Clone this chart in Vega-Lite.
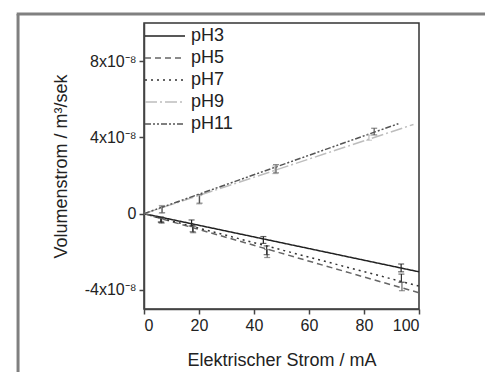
{
  "$schema": "https://vega.github.io/schema/vega-lite/v6.json",
  "width": 275,
  "height": 286,
  "autosize": "none",
  "padding": {"left": 144, "top": 23, "right": 66, "bottom": 63},
  "background": "white",
  "config": {
    "font": "Liberation Sans",
    "view": {"stroke": "#333", "strokeWidth": 1.5},
    "axis": {
      "grid": false,
      "domainColor": "#444",
      "domainWidth": 1.5,
      "tickColor": "#444",
      "tickWidth": 1.5,
      "tickSize": 5,
      "labelFontSize": 16,
      "labelColor": "#222",
      "titleFontSize": 18,
      "titleFontWeight": "normal",
      "titleColor": "#222",
      "labelPadding": 3
    }
  },
  "datasets": {
    "lines": [
      {"series": "pH3", "I": 0, "V": 0},
      {"series": "pH3", "I": 100, "V": -3.05e-8},
      {"series": "pH5", "I": 0, "V": 0},
      {"series": "pH5", "I": 100, "V": -4.15e-8},
      {"series": "pH7", "I": 0, "V": 0},
      {"series": "pH7", "I": 100, "V": -3.8e-8},
      {"series": "pH9", "I": 0, "V": 0},
      {"series": "pH9", "I": 98, "V": 4.68e-8},
      {"series": "pH11", "I": 0, "V": 0},
      {"series": "pH11", "I": 92.5, "V": 4.72e-8}
    ],
    "points": [
      {"series": "pH3", "I": 6.1, "lo": -0.44e-8, "hi": -0.18e-8},
      {"series": "pH3", "I": 17.3, "lo": -0.65e-8, "hi": -0.33e-8},
      {"series": "pH3", "I": 43.4, "lo": -1.56e-8, "hi": -1.2e-8},
      {"series": "pH3", "I": 93.5, "lo": -3.05e-8, "hi": -2.64e-8},
      {"series": "pH5", "I": 6.4, "lo": -0.5e-8, "hi": -0.25e-8},
      {"series": "pH5", "I": 17.9, "lo": -1.0e-8, "hi": -0.68e-8},
      {"series": "pH5", "I": 44.8, "lo": -2.3e-8, "hi": -1.88e-8},
      {"series": "pH5", "I": 93.8, "lo": -4.04e-8, "hi": -3.6e-8},
      {"series": "pH7", "I": 6.3, "lo": -0.45e-8, "hi": -0.2e-8},
      {"series": "pH7", "I": 17.7, "lo": -0.95e-8, "hi": -0.6e-8},
      {"series": "pH7", "I": 44.6, "lo": -2.15e-8, "hi": -1.69e-8},
      {"series": "pH7", "I": 93.6, "lo": -3.6e-8, "hi": -3.17e-8},
      {"series": "pH9", "I": 6.4, "lo": 0.02e-8, "hi": 0.43e-8},
      {"series": "pH9", "I": 20.0, "lo": 0.5e-8, "hi": 0.95e-8},
      {"series": "pH9", "I": 47.6, "lo": 2.1e-8, "hi": 2.5e-8},
      {"series": "pH9", "I": 81.8, "lo": 3.85e-8, "hi": 4.12e-8},
      {"series": "pH11", "I": 6.6, "lo": 0.05e-8, "hi": 0.4e-8},
      {"series": "pH11", "I": 20.2, "lo": 0.55e-8, "hi": 1.0e-8},
      {"series": "pH11", "I": 48.0, "lo": 2.14e-8, "hi": 2.57e-8},
      {"series": "pH11", "I": 83.7, "lo": 4.13e-8, "hi": 4.48e-8}
    ]
  },
  "layer": [
    {
      "data": {"values": [{}]},
      "mark": {"type": "rule", "color": "#808080", "strokeWidth": 3, "clip": false},
      "encoding": {
        "x": {"datum": -45.8, "type": "quantitative"},
        "y": {"datum": 10.47e-8, "type": "quantitative"},
        "y2": {"datum": -3e-7}
      }
    },
    {
      "data": {"values": [{}]},
      "mark": {"type": "rule", "color": "#808080", "strokeWidth": 3, "clip": false},
      "encoding": {
        "x": {"datum": -46.3, "type": "quantitative"},
        "x2": {"datum": 250},
        "y": {"datum": 10.47e-8, "type": "quantitative"}
      }
    },
    {
      "mark": {"type": "rule", "color": "#222", "strokeWidth": 1.5},
      "encoding": {"y": {"datum": 0, "type": "quantitative"}}
    },
    {
      "data": {"name": "lines"},
      "mark": {"type": "line", "strokeWidth": 1.5},
      "encoding": {
        "x": {
          "field": "I", "type": "quantitative",
          "scale": {"domain": [0, 100], "nice": false, "zero": false},
          "axis": {"values": [0, 20, 40, 60, 80, 100], "title": "Elektrischer Strom / mA", "titlePadding": 18}
        },
        "y": {
          "field": "V", "type": "quantitative",
          "scale": {"domain": [-5e-8, 1e-7], "nice": false},
          "axis": {
            "values": [-4e-8, 0, 4e-8, 8e-8],
            "labelExpr": "datum.value == 0 ? '0' : round(datum.value * 1e8) + 'x10⁻⁸'",
            "title": "Volumenstrom / m³/sek",
            "titlePadding": 14
          }
        },
        "color": {
          "field": "series", "type": "nominal",
          "scale": {"domain": ["pH3", "pH5", "pH7", "pH9", "pH11"], "range": ["#222222", "#666666", "#333333", "#bdbdbd", "#555555"]},
          "legend": {
            "title": null, "orient": "none", "legendX": 12, "legendY": 4,
            "symbolType": "M-2.5,0H2.5", "symbolSize": 256, "symbolStrokeWidth": 1.5,
            "labelFontSize": 18, "labelColor": "#222", "labelOffset": 17,
            "rowPadding": 4, "padding": 0
          }
        },
        "strokeDash": {
          "field": "series", "type": "nominal",
          "scale": {"domain": ["pH3", "pH5", "pH7", "pH9", "pH11"], "range": [[1, 0], [6, 4], [2, 4], [12, 3, 2, 3], [6, 2, 2, 2, 2, 2]]},
          "legend": {
            "title": null, "orient": "none", "legendX": 12, "legendY": 4,
            "symbolType": "M-2.5,0H2.5", "symbolSize": 256, "symbolStrokeWidth": 1.5,
            "labelFontSize": 18, "labelColor": "#222", "labelOffset": 17,
            "rowPadding": 4, "padding": 0
          }
        }
      }
    },
    {
      "data": {"name": "points"},
      "mark": {"type": "rule", "strokeWidth": 1.2},
      "encoding": {
        "x": {"field": "I", "type": "quantitative"},
        "y": {"field": "lo", "type": "quantitative"},
        "y2": {"field": "hi"},
        "color": {"field": "series", "type": "nominal", "legend": null}
      }
    },
    {
      "data": {"name": "points"},
      "mark": {"type": "tick", "orient": "horizontal", "size": 6, "thickness": 1.2},
      "encoding": {
        "x": {"field": "I", "type": "quantitative"},
        "y": {"field": "lo", "type": "quantitative"},
        "color": {"field": "series", "type": "nominal", "legend": null}
      }
    },
    {
      "data": {"name": "points"},
      "mark": {"type": "tick", "orient": "horizontal", "size": 6, "thickness": 1.2},
      "encoding": {
        "x": {"field": "I", "type": "quantitative"},
        "y": {"field": "hi", "type": "quantitative"},
        "color": {"field": "series", "type": "nominal", "legend": null}
      }
    }
  ]
}
